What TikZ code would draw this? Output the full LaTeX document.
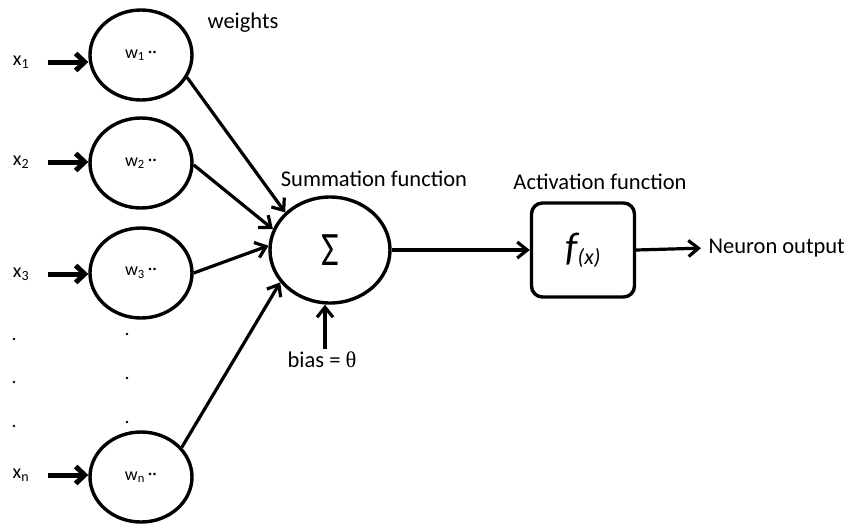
\documentclass[tikz,border=0pt]{standalone}
\usepackage{fontspec}
\setmainfont{Carlito}
\newfontfamily\greekserif{Liberation Serif}
\usetikzlibrary{arrows.meta,shapes.geometric}
\tikzstyle{weight} = [draw,ellipse,line width=3.4pt,minimum width=102pt,minimum height=90pt,inner sep=0pt,font=\fontsize{18}{18}\selectfont]
\tikzstyle{input}  = [inner sep=1pt,font=\fontsize{20}{20}\selectfont]
\tikzstyle{txt}    = [inner sep=1pt,font=\fontsize{22.5}{22.5}\selectfont]
\tikzstyle{dot}    = [circle,fill=black,inner sep=0pt,minimum size=2.8pt]
\tikzstyle{feed}   = [->,line width=5pt,shorten <=16pt,>={Straight Barb[length=9pt,width=17pt]}]

\begin{document}
\begin{tikzpicture}[x=1pt,y=-1pt,->,>={Straight Barb[length=10pt,width=16pt]},line width=3.2pt]
\useasboundingbox (0,0) rectangle (849,528);

\node[weight] (W1) at (141,55)  {w\textsubscript{1}\,\raisebox{1pt}{··}};
\node[weight] (W2) at (141,163) {w\textsubscript{2}\,\raisebox{1pt}{··}};
\node[weight] (W3) at (141,273) {w\textsubscript{3}\,\raisebox{1pt}{··}};
\node[weight] (Wn) at (141,477) {w\textsubscript{n}\,\raisebox{1pt}{··}};

\node[input] (X1) at (21,62)  {x\textsubscript{1}};
\node[input] (X2) at (21,162) {x\textsubscript{2}};
\node[input] (X3) at (21,274) {x\textsubscript{3}};
\node[input] (Xn) at (21,475) {x\textsubscript{n}};

\node[dot] (D1) at (14,339) {};
\node[dot] (D2) at (14,382) {};
\node[dot] (D3) at (14,426) {};
\node[dot] (D4) at (127,334) {};
\node[dot] (D5) at (127,378) {};
\node[dot] (D6) at (127,422) {};

\node[draw,ellipse,line width=3.4pt,minimum width=120pt,minimum height=106pt,inner sep=0pt] (S) at (330,250)
  {\scalebox{0.8}[1]{\fontsize{48}{48}\selectfont Σ}};
\node[draw,rounded corners=11pt,line width=3.4pt,minimum width=103pt,minimum height=94pt,inner sep=0pt] (F) at (583,250)
  {{\fontsize{40}{40}\selectfont\itshape f}\raisebox{-4pt}{\fontsize{22}{22}\selectfont\itshape(x)}};

\node[txt,anchor=west] (Wt) at (205,23)  {weights};
\node[txt] (St) at (374,179) {Summation function};
\node[txt] (At) at (600,182) {Activation function};
\node[txt] (B)  at (322,360) {bias = {\greekserif θ}};
\node[txt,anchor=west] (Out) at (706,248) {Neuron output};

\draw[feed] (X1.east) -- (X1.east -| W1.west);
\draw[feed] (X2.east) -- (X2.east -| W2.west);
\draw[feed] (X3.east) -- (X3.east -| W3.west);
\draw[feed] (Xn.east) -- (Xn.east -| Wn.west);

\draw (W1.-26) -- (S.140);
\draw (W2.-2)  -- (S.160);
\draw (W3.0)   -- (S.176);
\draw (Wn.36)  -- (S.-147);
\draw ([xshift=3pt]B.north) -- ([xshift=3pt]B.north |- S.south);
\draw (S.east) -- (F.west);
\draw[shorten >=5pt] (F.east) -- (Out.west);

\end{tikzpicture}
\end{document}
